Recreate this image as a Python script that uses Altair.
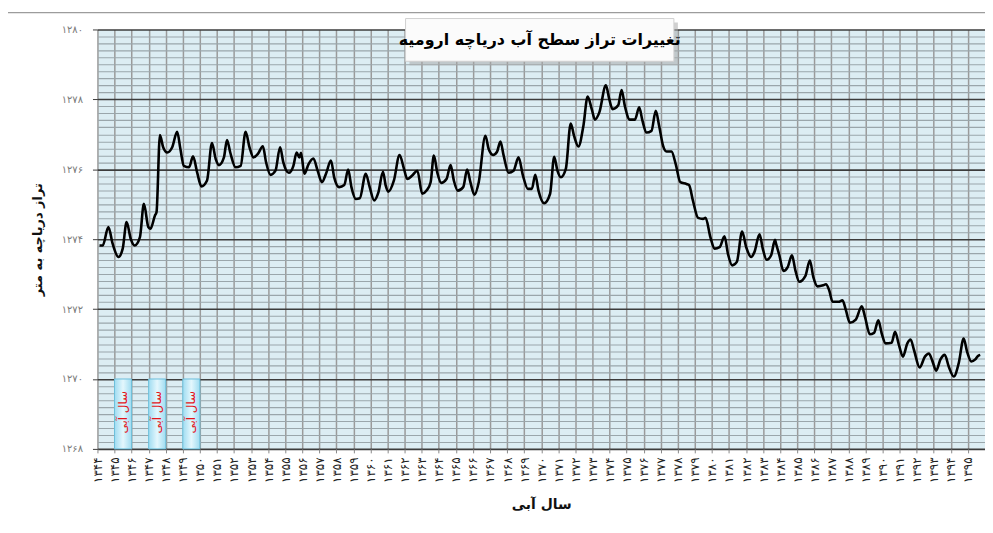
import json
import altair as alt
import pandas as pd

FA = str.maketrans("0123456789", "۰۱۲۳۴۵۶۷۸۹")

title_text = "تغییرات تراز سطح آب دریاچه ارومیه"
y_title = "تراز دریاچه به متر"
x_title = "سال آبی"
box_label = "سال آبی"

# x axis: water years and their Persian labels
years = list(range(1344, 1396))
year_labels = [str(y).translate(FA) for y in years]

# y axis: levels (m) and Persian labels
level_ticks = [1268, 1270, 1272, 1274, 1276, 1278, 1280]
level_labels = [str(v).translate(FA) for v in level_ticks]
minor_ticks = [round(1268 + 0.2 * k, 1) for k in range(61)]

# highlighted water years (boxes at the bottom)
wet_years = [1345, 1347, 1349]

# lake level series (decimal water year, level m)
t = [1344.12, 1344.31, 1344.64, 1344.89, 1345.23, 1345.48, 1345.71, 1345.95, 1346.18, 1346.49,
     1346.72, 1346.98, 1347.11, 1347.37, 1347.46, 1347.66, 1347.85, 1348.09, 1348.38, 1348.67,
     1348.86, 1349.06, 1349.37, 1349.60, 1349.84, 1350.09, 1350.42, 1350.71, 1350.93, 1351.12,
     1351.41, 1351.59, 1351.78, 1352.09, 1352.39, 1352.68, 1352.91, 1353.14, 1353.40, 1353.69,
     1353.88, 1354.14, 1354.43, 1354.70, 1354.89, 1355.21, 1355.48, 1355.67, 1355.83, 1355.93,
     1356.12, 1356.37, 1356.65, 1356.90, 1357.15, 1357.39, 1357.68, 1357.87, 1358.16, 1358.46,
     1358.69, 1358.88, 1359.14, 1359.37, 1359.72, 1359.95, 1360.21, 1360.46, 1360.73, 1360.89,
     1361.04, 1361.37, 1361.70, 1361.96, 1362.15, 1362.44, 1362.74, 1363.03, 1363.28, 1363.52,
     1363.71, 1363.91, 1364.14, 1364.45, 1364.69, 1364.88, 1365.11, 1365.43, 1365.66, 1365.85,
     1366.09, 1366.34, 1366.73, 1366.92, 1367.18, 1367.41, 1367.61, 1367.80, 1368.09, 1368.38,
     1368.67, 1368.93, 1369.22, 1369.45, 1369.65, 1369.84, 1370.17, 1370.52, 1370.76, 1370.95,
     1371.15, 1371.44, 1371.73, 1371.92, 1372.18, 1372.47, 1372.72, 1372.96, 1373.15, 1373.40,
     1373.79, 1373.99, 1374.18, 1374.51, 1374.71, 1374.90, 1375.19, 1375.49, 1375.74, 1375.93,
     1376.17, 1376.46, 1376.71, 1376.91, 1377.14, 1377.34, 1377.63, 1377.88, 1378.15, 1378.51,
     1378.66, 1378.89, 1379.19, 1379.48, 1379.63, 1379.91, 1380.16, 1380.45, 1380.74, 1380.94,
     1381.19, 1381.46, 1381.77, 1382.01, 1382.30, 1382.49, 1382.79, 1382.98, 1383.21, 1383.47,
     1383.70, 1383.76, 1383.95, 1384.19, 1384.44, 1384.69, 1384.89, 1385.12, 1385.47, 1385.74,
     1385.94, 1386.19, 1386.52, 1386.68, 1386.87, 1387.07, 1387.42, 1387.65, 1387.85, 1388.08,
     1388.43, 1388.78, 1388.97, 1389.25, 1389.50, 1389.75, 1389.95, 1390.18, 1390.53, 1390.73,
     1390.96, 1391.19, 1391.45, 1391.64, 1391.84, 1392.17, 1392.48, 1392.71, 1392.90, 1393.14,
     1393.39, 1393.64, 1393.88, 1394.17, 1394.46, 1394.75, 1394.95, 1395.20, 1395.43, 1395.59,
     1395.72]
level = [1273.82, 1273.82, 1274.35, 1273.87, 1273.49, 1273.73, 1274.49, 1274.01, 1273.82, 1274.06,
         1275.01, 1274.35, 1274.30, 1274.68, 1274.77, 1276.98, 1276.63, 1276.48, 1276.63, 1277.07,
         1276.58, 1276.10, 1276.06, 1276.37, 1275.91, 1275.51, 1275.68, 1276.75, 1276.29, 1276.12,
         1276.34, 1276.84, 1276.48, 1276.06, 1276.10, 1277.07, 1276.63, 1276.34, 1276.44, 1276.66,
         1276.20, 1275.84, 1275.96, 1276.63, 1276.20, 1275.90, 1276.10, 1276.48, 1276.34, 1276.47,
         1275.87, 1276.15, 1276.31, 1275.96, 1275.63, 1275.87, 1276.25, 1275.77, 1275.49, 1275.55,
         1275.99, 1275.49, 1275.15, 1275.17, 1275.87, 1275.49, 1275.11, 1275.34, 1275.93, 1275.53,
         1275.36, 1275.68, 1276.41, 1276.01, 1275.72, 1275.82, 1275.96, 1275.30, 1275.39, 1275.63,
         1276.39, 1275.91, 1275.61, 1275.72, 1276.12, 1275.68, 1275.39, 1275.49, 1275.99, 1275.63,
         1275.27, 1275.63, 1276.96, 1276.58, 1276.41, 1276.50, 1276.79, 1276.39, 1275.90, 1275.96,
         1276.34, 1275.82, 1275.44, 1275.44, 1275.84, 1275.39, 1275.03, 1275.30, 1276.36, 1275.96,
         1275.77, 1276.01, 1277.31, 1276.96, 1276.65, 1277.24, 1278.08, 1277.72, 1277.42, 1277.62,
         1278.40, 1278.00, 1277.72, 1277.83, 1278.27, 1277.81, 1277.42, 1277.42, 1277.77, 1277.39,
         1277.05, 1277.10, 1277.67, 1277.24, 1276.67, 1276.51, 1276.51, 1276.15, 1275.63, 1275.58,
         1275.55, 1275.10, 1274.61, 1274.58, 1274.61, 1274.06, 1273.73, 1273.77, 1274.08, 1273.58,
         1273.25, 1273.35, 1274.22, 1273.77, 1273.49, 1273.63, 1274.14, 1273.73, 1273.41, 1273.54,
         1273.98, 1273.87, 1273.54, 1273.09, 1273.20, 1273.54, 1273.11, 1272.78, 1272.94, 1273.39,
         1272.92, 1272.65, 1272.68, 1272.71, 1272.54, 1272.21, 1272.21, 1272.25, 1271.97, 1271.61,
         1271.70, 1272.08, 1271.78, 1271.28, 1271.32, 1271.68, 1271.30, 1271.02, 1271.04, 1271.35,
         1270.97, 1270.64, 1271.02, 1271.13, 1270.83, 1270.33, 1270.64, 1270.73, 1270.54, 1270.24,
         1270.56, 1270.69, 1270.35, 1270.07, 1270.45, 1271.16, 1270.78, 1270.50, 1270.56, 1270.66,
         1270.69]

FONT = "DejaVu Sans"
W, H = 893, 422

df = pd.DataFrame({"t": t, "level": level})
boxes = pd.DataFrame({"t": wet_years, "t_end": [y + 1 for y in wet_years],
                      "level": [1268] * 3, "level_end": [1270] * 3})
box_labels = pd.DataFrame({"t": [y + 0.5 for y in wet_years], "level": [1269.05] * 3,
                           "lab": [box_label] * 3})
one = pd.DataFrame({"k": [0]})

xscale = alt.Scale(domain=[1344, 1396], nice=False, zero=False)
yscale = alt.Scale(domain=[1268, 1280], nice=False, zero=False)

major_test = "abs(datum.value % 2) < 0.01"
x_expr = json.dumps(year_labels, ensure_ascii=False) + "[round(datum.value - 1344)]"
y_expr = (major_test + " ? " + json.dumps(level_labels, ensure_ascii=False)
          + "[round((datum.value - 1268) / 2)] : ''")

x_axis = alt.Axis(values=years, labelExpr=x_expr, labelAngle=270, labelFont=FONT,
                  labelFontSize=12, labelColor="#222222", labelPadding=4, labelFlush=False,
                  labelOverlap=False, grid=True, gridColor="#9a9a9a", gridWidth=1.5,
                  domain=False, ticks=True, tickColor="#888888", tickSize=4,
                  title=x_title, titleFont=FONT, titleFontSize=14, titleFontWeight="bold",
                  titleColor="#111111", titlePadding=15)
y_axis = alt.Axis(values=minor_ticks, labelExpr=y_expr, labelFont=FONT, labelFontSize=10,
                  labelColor="#7a7a7a", labelPadding=10, labelFlush=False, labelOverlap=False,
                  grid=True,
                  gridColor={"condition": {"test": major_test, "value": "#3c3c3c"},
                             "value": "#9aa6ab"},
                  gridWidth={"condition": {"test": major_test, "value": 1.6}, "value": 1.1},
                  domain=False, ticks=True, tickSize=5,
                  tickColor={"condition": {"test": major_test, "value": "#3c3c3c"},
                             "value": "transparent"},
                  title=y_title, titleFont=FONT, titleFontSize=13, titleFontWeight="bold",
                  titleColor="#111111", titlePadding=17)

X = alt.X("t:Q", scale=xscale, axis=x_axis)
Y = alt.Y("level:Q", scale=yscale, axis=y_axis)

line = alt.Chart(df).mark_line(color="black", strokeWidth=2.6, strokeJoin="round",
                               interpolate="monotone").encode(x=X, y=Y)

box_fill = alt.Gradient(gradient="linear", x1=0, x2=1, y1=0, y2=0,
                        stops=[alt.GradientStop(color="#9fdcf1", offset=0),
                               alt.GradientStop(color="#e4f7fd", offset=0.5),
                               alt.GradientStop(color="#9fdcf1", offset=1)])
box_rect = alt.Chart(boxes).mark_rect(fill=box_fill, stroke="#6cbfdc", strokeWidth=1).encode(
    x=X, x2="t_end:Q", y=Y, y2="level_end:Q")
box_text = alt.Chart(box_labels).mark_text(angle=270, font=FONT, fontSize=12,
                                           color="#e3141b").encode(
    x=X, y=Y, text="lab:N")

frame = alt.Chart(one).mark_rect(fill="transparent", stroke="#9c9c9c", strokeWidth=1.2).encode(
    x=alt.value(-91), x2=alt.value(1000), y=alt.value(-17), y2=alt.value(700))

shadow = alt.Chart(one).mark_rect(fill="#a9a9a9", opacity=0.55).encode(
    x=alt.value(314), x2=alt.value(584), y=alt.value(-7), y2=alt.value(36))
tbox = alt.Chart(one).mark_rect(fill="#fbfbfb", stroke="#d0d0d0", strokeWidth=1).encode(
    x=alt.value(310), x2=alt.value(580), y=alt.value(-11), y2=alt.value(32))
ttext = alt.Chart(one).mark_text(text=title_text, font=FONT, fontSize=16, fontWeight="bold",
                                 color="#000000").encode(x=alt.value(445), y=alt.value(11))

chart = alt.layer(line, box_rect, box_text, frame, shadow, tbox, ttext).properties(
    width=W, height=H,
    autosize=alt.AutoSizeParams(type="none"),
    padding={"left": 90, "top": 20, "right": 0, "bottom": 80},
    background="white",
).configure_view(fill="#dcedf3", stroke="transparent")

chart.save("out.html", embed_options={"renderer": "svg", "actions": False})
